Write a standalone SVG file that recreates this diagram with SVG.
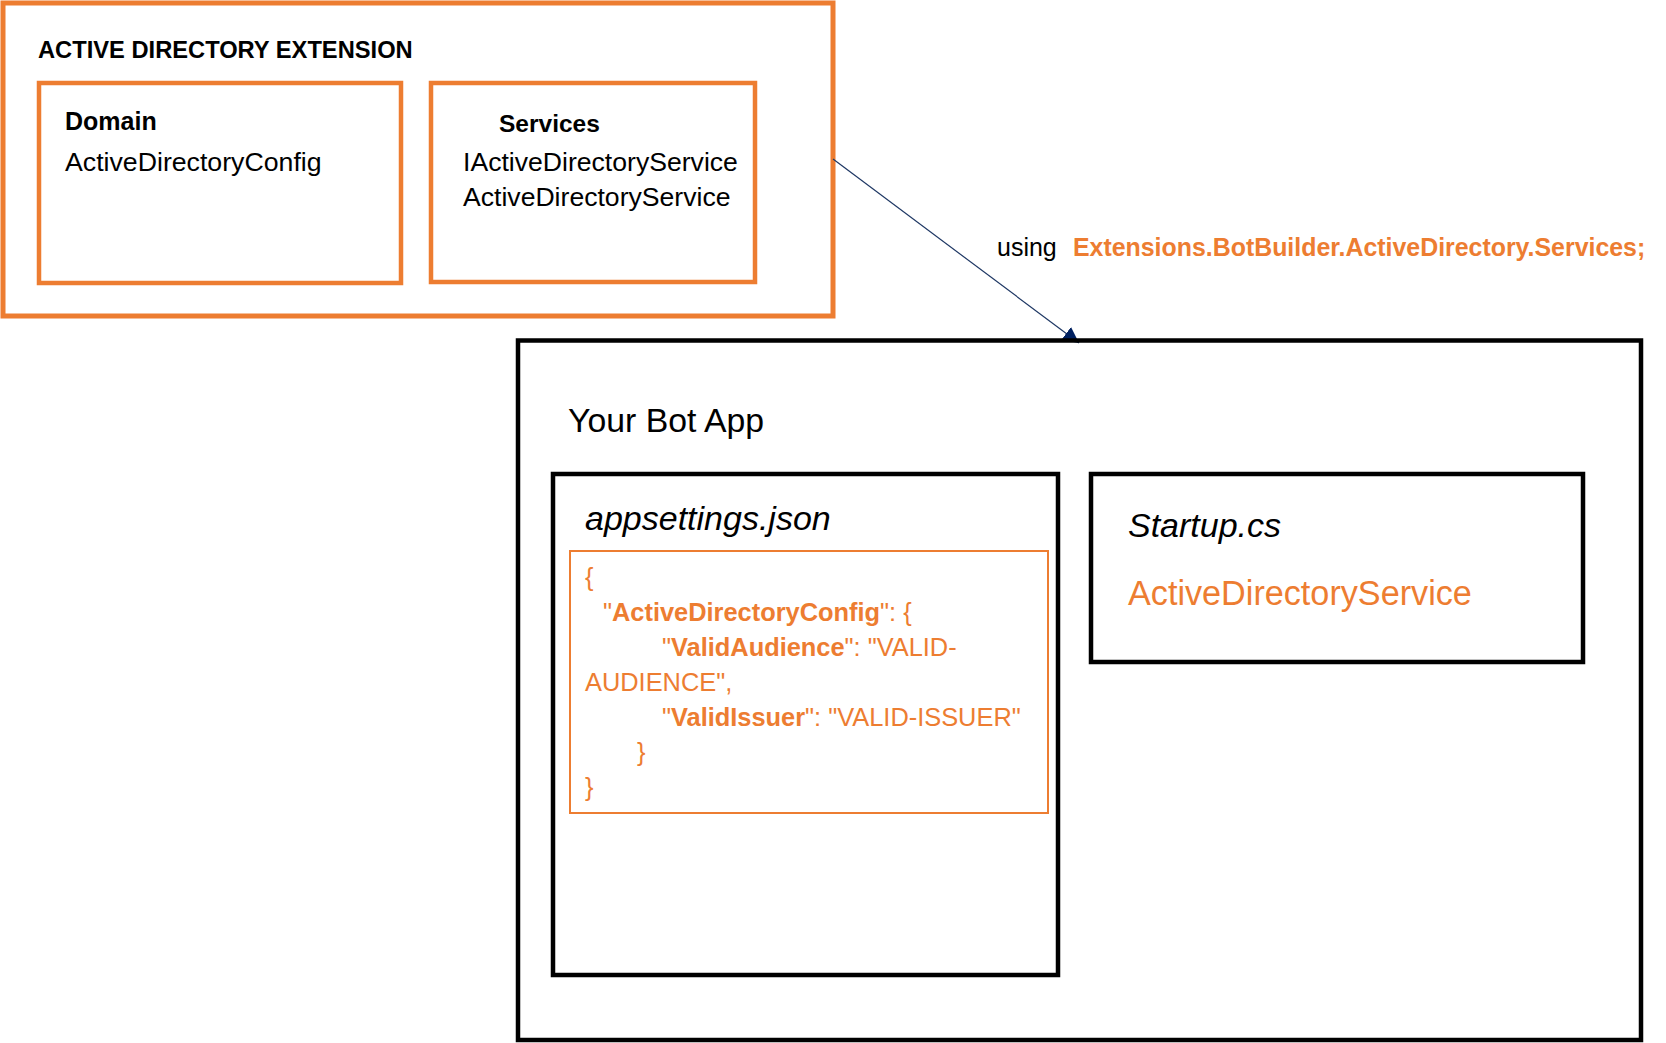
<svg xmlns="http://www.w3.org/2000/svg" width="1666" height="1043" viewBox="0 0 1666 1043">
<style>
text{font-family:"Liberation Sans",Arial,sans-serif;fill:#000}
.or{stroke:#ED7D31;fill:none}
.bk{stroke:#000;fill:none;stroke-width:4.5}
.o{fill:#ED7D31}
.b{font-weight:bold}
.i{font-style:italic}
.js{font-size:25.4px;fill:#ED7D31}
</style>
<defs>
<marker id="arr" markerUnits="userSpaceOnUse" markerWidth="18" markerHeight="16" refX="16" refY="8" orient="auto">
<path d="M0,0 L16,8 L0,16 z" fill="#002060"/>
</marker>
</defs>
<rect width="1666" height="1043" fill="#fff"/>
<g id="extension">
<rect class="or" x="3" y="3" width="830" height="313" stroke-width="5"/>
<text class="b" x="38" y="58" font-size="23.7">ACTIVE DIRECTORY EXTENSION</text>
</g>
<g id="domain">
<rect class="or" x="39" y="83" width="362" height="200" stroke-width="4.5"/>
<text class="b" x="65" y="130" font-size="25">Domain</text>
<text x="65" y="171" font-size="26.7">ActiveDirectoryConfig</text>
</g>
<g id="services">
<rect class="or" x="431" y="83" width="324" height="199" stroke-width="4.5"/>
<text class="b" x="499" y="132" font-size="24.5">Services</text>
<text x="463" y="171" font-size="26.6">IActiveDirectoryService</text>
<text x="463" y="206" font-size="26.6">ActiveDirectoryService</text>
</g>
<g id="connectors">
<line x1="833" y1="159" x2="1079" y2="343" stroke="#1F3864" stroke-width="1.2" marker-end="url(#arr)"/>
<text x="997" y="256" font-size="25">using</text>
<text class="b o" x="1073" y="256" font-size="24.9">Extensions.BotBuilder.ActiveDirectory.Services;</text>
</g>
<g id="botapp">
<rect class="bk" x="518" y="340.5" width="1123" height="699.5"/>
<text x="568" y="432" font-size="33.8">Your Bot App</text>
</g>
<g id="appsettings">
<rect class="bk" x="553" y="474" width="505" height="501"/>
<text class="i" x="585" y="530" font-size="34">appsettings.json</text>
<rect class="or" x="570" y="551" width="478" height="262" stroke-width="2"/>
<text class="js" x="585" y="586">{</text>
<text class="js" x="603" y="621">"<tspan class="b">ActiveDirectoryConfig</tspan>": {</text>
<text class="js" x="662" y="656">"<tspan class="b">ValidAudience</tspan>": "VALID-</text>
<text class="js" x="585" y="691">AUDIENCE",</text>
<text class="js" x="662" y="726">"<tspan class="b">ValidIssuer</tspan>": "VALID-ISSUER"</text>
<text class="js" x="637" y="761">}</text>
<text class="js" x="585" y="796">}</text>
</g>
<g id="startup">
<rect class="bk" x="1091" y="474" width="492" height="188"/>
<text class="i" x="1128" y="537" font-size="34">Startup.cs</text>
<text class="o" x="1128" y="605" font-size="34.2">ActiveDirectoryService</text>
</g>
</svg>
